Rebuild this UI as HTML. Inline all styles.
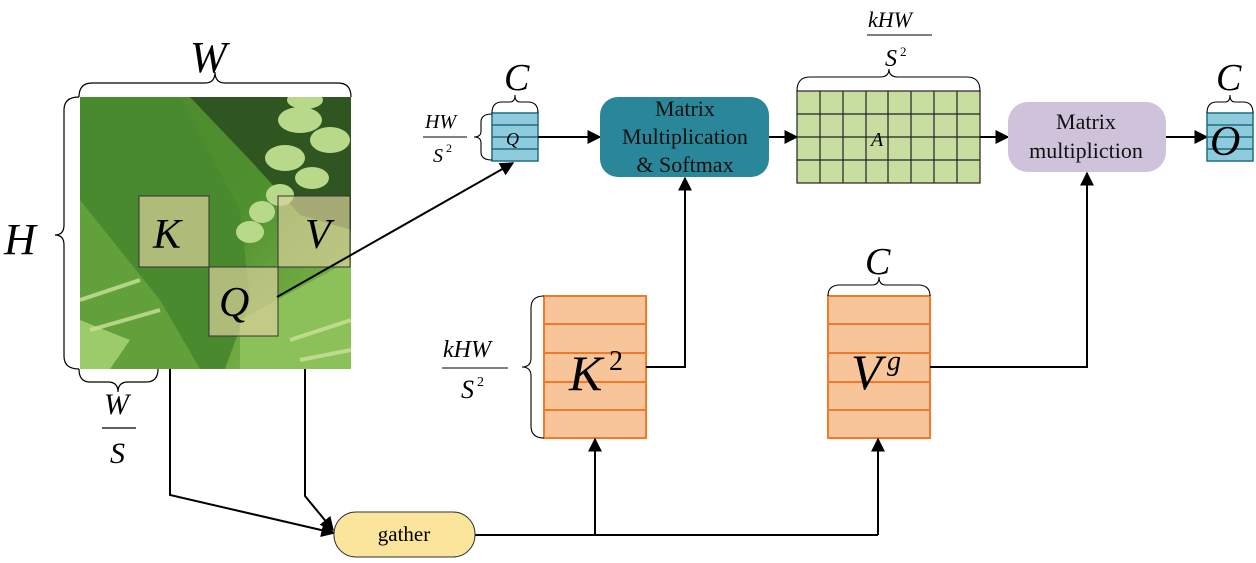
<!DOCTYPE html>
<html><head><meta charset="utf-8"><style>
html,body{margin:0;padding:0;background:#fff;}
svg{display:block;}
text{font-family:"Liberation Serif",serif;}
.it{font-style:italic;}
</style></head><body>
<svg width="1256" height="563" viewBox="0 0 1256 563" xmlns="http://www.w3.org/2000/svg">
<defs>
<marker id="ar2" viewBox="0 0 10 10" refX="9" refY="5" markerWidth="14" markerHeight="14" markerUnits="userSpaceOnUse" orient="auto"><path d="M0,0L10,5L0,10z" fill="#000"/></marker>
<linearGradient id="bg" x1="0" y1="0" x2="1" y2="1"><stop offset="0" stop-color="#4f8a2e"/><stop offset="0.5" stop-color="#4e8f2e"/><stop offset="1" stop-color="#8fc256"/></linearGradient>
<clipPath id="ic"><rect x="80" y="97" width="271" height="272"/></clipPath>
</defs>

<g clip-path="url(#ic)">
<rect x="80" y="97" width="271" height="272" fill="url(#bg)"/>
<polygon points="190,97 351,97 351,230 300,215 250,160" fill="#2f5620"/>
<polygon points="80,97 180,97 240,210 250,300 225,369 80,369" fill="#4a8a2e"/>
<polygon points="80,200 160,300 200,369 80,369" fill="#62a03a"/>
<polygon points="240,320 351,260 351,369 240,369" fill="#8cc058"/>
<polygon points="80,320 130,340 110,369 80,369" fill="#9ccb6a"/>
<g fill="#b9d98a">
<ellipse cx="300" cy="120" rx="22" ry="13"/><ellipse cx="330" cy="140" rx="20" ry="13"/>
<ellipse cx="285" cy="158" rx="20" ry="13"/><ellipse cx="312" cy="178" rx="17" ry="11"/>
<ellipse cx="280" cy="195" rx="14" ry="11"/><ellipse cx="262" cy="212" rx="13" ry="11"/>
<ellipse cx="250" cy="232" rx="14" ry="11"/><ellipse cx="305" cy="100" rx="18" ry="9"/>
</g>
<g stroke="#c9e29a" stroke-width="4" opacity="0.8">
<line x1="80" y1="300" x2="140" y2="280"/><line x1="90" y1="330" x2="160" y2="310"/>
<line x1="290" y1="340" x2="351" y2="320"/><line x1="300" y1="360" x2="351" y2="350"/>
</g>
<rect x="139" y="196" width="70" height="71" fill="#d8d09a" fill-opacity="0.7" stroke="#333" stroke-width="1"/>
<rect x="278" y="196" width="72" height="71" fill="#d8d09a" fill-opacity="0.7" stroke="#333" stroke-width="1"/>
<rect x="209" y="267" width="69" height="69" fill="#d8d09a" fill-opacity="0.7" stroke="#333" stroke-width="1"/>
</g>
<text x="153" y="248" font-size="42" class="it">K</text>
<text x="305" y="248" font-size="42" class="it">V</text>
<text x="219" y="316" font-size="42" class="it">Q</text>

<g fill="none" stroke="#000" stroke-width="1.2">
<path d="M79,97 Q79,83 92,83 L205,83 Q215,83 215,72 Q215,83 225,83 L338,83 Q351,83 351,97"/>
<path d="M79,97 Q64,97 64,110 L64,225 Q64,235 55,235 Q64,235 64,245 L64,356 Q64,369 79,369"/>
<path d="M79,369 Q79,382 90,382 L108,382 Q118,382 118,392 Q118,382 128,382 L146,382 Q158,382 158,369"/>
</g>
<text x="190" y="72" font-size="44" class="it">W</text>
<text x="4" y="254" font-size="44" class="it">H</text>
<text x="104" y="414" font-size="30" class="it">W</text>
<line x1="102" y1="428" x2="136" y2="428" stroke="#000" stroke-width="1.2"/>
<text x="110" y="463" font-size="30" class="it">S</text>

<rect x="492" y="113" width="46" height="48" fill="#8ecbdc" stroke="#1d6f80" stroke-width="1.5"/>
<g stroke="#1d6f80" stroke-width="1.5"><line x1="492" y1="125" x2="538" y2="125"/><line x1="492" y1="137" x2="538" y2="137"/><line x1="492" y1="149" x2="538" y2="149"/></g>
<text x="506" y="145" font-size="18" class="it">Q</text>
<g fill="none" stroke="#000" stroke-width="1.1">
<path d="M492,113 Q492,102 502,102 L510,102 Q515,102 515,95 Q515,102 520,102 L528,102 Q538,102 538,113"/>
<path d="M492,114 Q481,114 481,122 L481,131 Q481,137 474,137 Q481,137 481,143 L481,152 Q481,160 492,160"/>
</g>
<text x="504" y="90" font-size="38" class="it">C</text>
<text x="425" y="128" font-size="20" class="it">HW</text>
<line x1="423" y1="137" x2="467" y2="137" stroke="#000" stroke-width="1"/>
<text x="433" y="162" font-size="20" class="it">S</text><text x="446" y="152" font-size="12">2</text>

<line x1="277" y1="297" x2="513" y2="163" stroke="#000" stroke-width="2" marker-end="url(#ar2)"/>
<line x1="538" y1="137" x2="600" y2="137" stroke="#000" stroke-width="2" marker-end="url(#ar2)"/>

<rect x="600" y="97" width="169" height="80" rx="18" fill="#2a8799"/>
<g font-size="22" fill="#111" text-anchor="middle">
<text x="685" y="116">Matrix</text><text x="685" y="144">Multiplication</text><text x="685" y="172">&amp; Softmax</text>
</g>
<line x1="769" y1="137" x2="797" y2="137" stroke="#000" stroke-width="2" marker-end="url(#ar2)"/>

<rect x="797" y="91" width="183" height="92" fill="#c8dea0" stroke="#222" stroke-width="1.2"/>
<g stroke="#222" stroke-width="1.2">
<line x1="820" y1="91" x2="820" y2="183"/><line x1="843" y1="91" x2="843" y2="183"/><line x1="866" y1="91" x2="866" y2="183"/><line x1="888" y1="91" x2="888" y2="183"/><line x1="911" y1="91" x2="911" y2="183"/><line x1="934" y1="91" x2="934" y2="183"/><line x1="957" y1="91" x2="957" y2="183"/>
<line x1="797" y1="114" x2="980" y2="114"/><line x1="797" y1="137" x2="980" y2="137"/><line x1="797" y1="160" x2="980" y2="160"/>
</g>
<text x="871" y="146" font-size="20" class="it">A</text>
<path d="M797,91 Q797,77 810,77 L880,77 Q889,77 889,69 Q889,77 898,77 L967,77 Q980,77 980,91" fill="none" stroke="#000" stroke-width="1.1"/>
<text x="868" y="27" font-size="22" class="it">kHW</text>
<line x1="867" y1="35" x2="932" y2="35" stroke="#000" stroke-width="1"/>
<text x="885" y="66" font-size="24" class="it">S</text><text x="900" y="56" font-size="13">2</text>
<line x1="980" y1="137" x2="1008" y2="137" stroke="#000" stroke-width="2" marker-end="url(#ar2)"/>

<rect x="1008" y="102" width="158" height="70" rx="20" fill="#cfc3dc"/>
<g font-size="22" fill="#111" text-anchor="middle"><text x="1086" y="129">Matrix</text><text x="1086" y="158">multipliction</text></g>
<line x1="1166" y1="137" x2="1207" y2="137" stroke="#000" stroke-width="2" marker-end="url(#ar2)"/>

<rect x="1207" y="113" width="46" height="48" fill="#8ecbdc" stroke="#1d6f80" stroke-width="1.5"/>
<g stroke="#1d6f80" stroke-width="1.5"><line x1="1207" y1="125" x2="1253" y2="125"/><line x1="1207" y1="137" x2="1253" y2="137"/><line x1="1207" y1="149" x2="1253" y2="149"/></g>
<text x="1210" y="155" font-size="42" class="it">O</text>
<path d="M1207,113 Q1207,102 1217,102 L1225,102 Q1230,102 1230,95 Q1230,102 1235,102 L1243,102 Q1253,102 1253,113" fill="none" stroke="#000" stroke-width="1.1"/>
<text x="1216" y="90" font-size="38" class="it">C</text>

<rect x="544" y="296" width="102" height="142" fill="#f8c59a" stroke="#f07a2a" stroke-width="2"/>
<g stroke="#f07a2a" stroke-width="2"><line x1="544" y1="324" x2="646" y2="324"/><line x1="544" y1="353" x2="646" y2="353"/><line x1="544" y1="382" x2="646" y2="382"/><line x1="544" y1="410" x2="646" y2="410"/></g>
<text x="569" y="390" font-size="50" class="it">K</text><text x="609" y="370" font-size="28">2</text>
<path d="M544,296 Q531,296 531,308 L531,358 Q531,367 522,367 Q531,367 531,376 L531,426 Q531,438 544,438" fill="none" stroke="#000" stroke-width="1.1"/>
<text x="443" y="357" font-size="24" class="it">kHW</text>
<line x1="442" y1="368" x2="508" y2="368" stroke="#000" stroke-width="1"/>
<text x="461" y="398" font-size="26" class="it">S</text><text x="477" y="386" font-size="14">2</text>

<rect x="828" y="296" width="102" height="142" fill="#f8c59a" stroke="#f07a2a" stroke-width="2"/>
<g stroke="#f07a2a" stroke-width="2"><line x1="828" y1="324" x2="930" y2="324"/><line x1="828" y1="353" x2="930" y2="353"/><line x1="828" y1="382" x2="930" y2="382"/><line x1="828" y1="410" x2="930" y2="410"/></g>
<text x="851" y="389" font-size="50" class="it">V</text><text x="887" y="370" font-size="28" class="it">g</text>
<path d="M828,296 Q828,285 840,285 L872,285 Q879,285 879,277 Q879,285 886,285 L918,285 Q930,285 930,296" fill="none" stroke="#000" stroke-width="1.1"/>
<text x="865" y="274" font-size="38" class="it">C</text>

<g fill="none" stroke="#000" stroke-width="2">
<polyline points="646,367 685,367 685,178" marker-end="url(#ar2)"/>
<polyline points="930,367 1087,367 1087,173" marker-end="url(#ar2)"/>
<polyline points="475,535 878,535"/>
<polyline points="595,535 595,439" marker-end="url(#ar2)"/>
<polyline points="878,535 878,439" marker-end="url(#ar2)"/>
<polyline points="170,369 170,495 334,533" marker-end="url(#ar2)"/>
<polyline points="305,369 305,496 333,530" marker-end="url(#ar2)"/>
</g>

<rect x="334" y="512" width="141" height="45" rx="22" fill="#fbe49c" stroke="#333" stroke-width="1"/>
<text x="404" y="541" font-size="21" text-anchor="middle">gather</text>
</svg>
</body></html>
